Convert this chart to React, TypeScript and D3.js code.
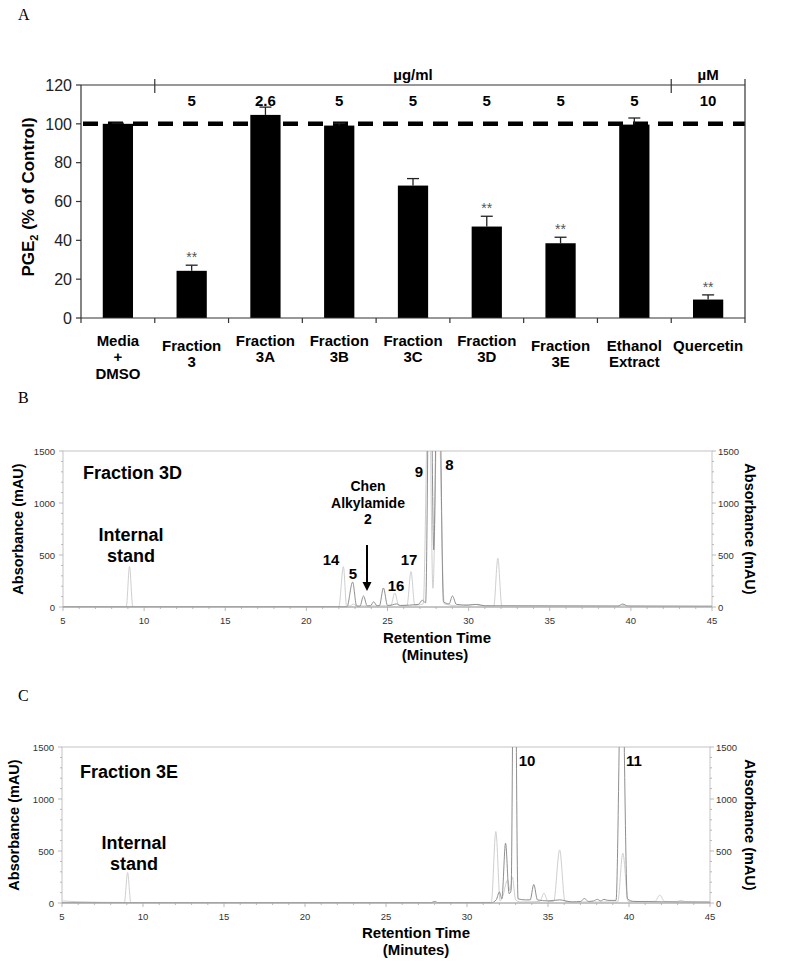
import React from 'react';
import * as d3 from 'd3';

// ---------- Panel A data ----------
const categories: string[][] = [
  ['Media', '+', 'DMSO'],
  ['Fraction', '3'],
  ['Fraction', '3A'],
  ['Fraction', '3B'],
  ['Fraction', '3C'],
  ['Fraction', '3D'],
  ['Fraction', '3E'],
  ['Ethanol', 'Extract'],
  ['Quercetin'],
];
const pgeValues = [100, 24.3, 104.6, 99.1, 68.2, 47.1, 38.5, 99.6, 9.5];
const pgeErrors = [0.3, 2.9, 4.0, 1.2, 3.6, 5.3, 3.1, 3.4, 2.4];
const significant = [false, true, false, false, false, true, true, false, true];
const concentrations = ['', '5', '2.6', '5', '5', '5', '5', '5', '10'];
const unitGroups = [
  { label: 'µg/ml', from: 1, to: 8 },
  { label: 'µM', from: 8, to: 9 },
];
const pgeTicks = [0, 20, 40, 60, 80, 100, 120];
const controlLevel = 100;

// ---------- Panel B / C data (retention time [min], absorbance [mAU]) ----------
const chromTicksX = [5, 10, 15, 20, 25, 30, 35, 40, 45];
const chromTicksY = [0, 500, 1000, 1500];

const trace3DLight: [number, number][] = [
  [5, 4], [8.9, 4], [9.1, 388], [9.3, 4],
  [22.0, 5], [22.28, 388], [22.48, 8], [22.7, 10], [22.9, 28], [23.1, 10],
  [25.2, 12], [25.45, 135], [25.7, 12],
  [26.2, 14], [26.45, 340], [26.68, 16],
  [27.2, 30], [27.55, 2400], [27.8, 180], [28.1, 2200], [28.5, 30],
  [29.5, 10], [30.3, 25], [31.0, 10],
  [31.55, 8], [31.8, 468], [32.05, 8],
  [39.3, 5], [39.6, 18], [39.9, 5], [45, 4],
];
const trace3DDark: [number, number][] = [
  [5, 2], [22.5, 3], [22.85, 240], [23.1, 8], [23.3, 8], [23.52, 106], [23.75, 10],
  [23.95, 12], [24.15, 50], [24.35, 12], [24.5, 12], [24.75, 183], [25.0, 15],
  [25.3, 20], [25.55, 30], [25.8, 15], [26.9, 25], [27.15, 65], [27.35, 40],
  [27.62, 3200], [27.85, 550], [28.12, 3200], [28.45, 50], [28.8, 30], [29.0, 106],
  [29.25, 25], [30.0, 18], [30.5, 25], [31.0, 12], [39.2, 10], [39.5, 28], [39.8, 10], [45, 8],
];

const trace3ELight: [number, number][] = [
  [5, 20], [6, 12], [8.85, 5], [9.05, 293], [9.25, 5], [27.8, 4], [28.0, 10], [28.2, 4],
  [31.5, 6], [31.78, 687], [32.05, 20], [32.2, 60], [32.5, 220], [32.65, 120], [32.8, 250],
  [33.0, 30], [33.3, 10], [34.5, 15], [34.75, 95], [35.0, 15], [35.35, 15], [35.72, 510],
  [36.05, 15], [37, 10], [39.3, 10], [39.62, 478], [39.95, 15], [41.6, 15], [41.9, 75],
  [42.2, 15], [42.9, 12], [43.2, 25], [43.5, 12], [45, 10],
];
const trace3EDark: [number, number][] = [
  [5, 3], [27.8, 3], [28.0, 15], [28.2, 3], [31.5, 3], [31.8, 30], [32.0, 106], [32.15, 40],
  [32.38, 575], [32.6, 90], [32.72, 120], [32.92, 3500], [33.15, 40], [33.6, 30], [33.9, 30],
  [34.12, 178], [34.35, 30], [35, 20], [35.7, 30], [36.5, 10], [37.0, 15], [37.25, 42],
  [37.5, 15], [37.8, 20], [38.05, 35], [38.25, 20], [38.45, 35], [38.7, 25], [39.2, 25],
  [39.55, 2600], [39.9, 40], [40.3, 15], [45, 8],
];

const SANS = "'Liberation Sans', Arial, Helvetica, sans-serif";
const SERIF = "'Liberation Serif', 'Times New Roman', serif";

function PanelA() {
  const left = 81, right = 745, top = 85, bottom = 318;
  const x = d3.scaleBand<string>()
    .domain(categories.map((_, i) => String(i)))
    .range([left, right])
    .paddingInner(0.59)
    .paddingOuter(0.295);
  const y = d3.scaleLinear().domain([0, 120]).range([bottom, top]);
  const step = x.step();
  const boundary = (i: number) => left + i * step;
  const labelShift = [0, 1, 0, 0, 0, 0, 1, 1, 1];
  return (
    <g fontFamily={SANS}>
      <text x={18} y={20} fontFamily={SERIF} fontSize={16}>A</text>
      {/* dashed control line */}
      <line x1={left} x2={right} y1={y(controlLevel)} y2={y(controlLevel)} stroke="#000" strokeWidth={4.5} strokeDasharray="15 10" strokeDashoffset={-2} />
      {/* bars */}
      {pgeValues.map((v, i) => {
        const bx = x(String(i))!;
        const cx = bx + x.bandwidth() / 2;
        const yt = y(v + pgeErrors[i]);
        return (
          <g key={i}>
            <line x1={cx} x2={cx} y1={y(v)} y2={yt} stroke="#222" strokeWidth={1.3} />
            <line x1={cx - 6} x2={cx + 6} y1={yt} y2={yt} stroke="#222" strokeWidth={1.3} />
            <rect x={bx} y={y(v)} width={x.bandwidth()} height={bottom - y(v)} fill="#000" />
            {significant[i] && (
              <text x={cx} y={yt - 3} textAnchor="middle" fontSize={14} fill="#555">**</text>
            )}
            {concentrations[i] && (
              <text x={cx} y={105.5} textAnchor="middle" fontSize={15} fontWeight="bold">{concentrations[i]}</text>
            )}
            {categories[i].map((ln, j) => (
              <text key={j} x={cx} y={345.5 + labelShift[i] * 5 + j * 16.5} textAnchor="middle" fontSize={15} fontWeight="bold">{ln}</text>
            ))}
          </g>
        );
      })}
      {/* axes */}
      <line x1={left} x2={left} y1={top} y2={bottom} stroke="#333" strokeWidth={1.2} />
      <line x1={left} x2={right} y1={bottom} y2={bottom} stroke="#333" strokeWidth={1.2} />
      <line x1={left} x2={right} y1={top} y2={top} stroke="#333" strokeWidth={1.2} />
      <line x1={right} x2={right} y1={top - 6} y2={bottom} stroke="#333" strokeWidth={1.2} />
      {pgeTicks.map(t => (
        <g key={t}>
          <line x1={left - 5} x2={left} y1={y(t)} y2={y(t)} stroke="#333" strokeWidth={1.2} />
          <text x={left - 9} y={y(t) + 5.7} textAnchor="end" fontSize={16} fill="#222">{t}</text>
        </g>
      ))}
      {d3.range(categories.length + 1).map(i => (
        <line key={i} x1={boundary(i)} x2={boundary(i)} y1={bottom} y2={bottom + 5} stroke="#333" strokeWidth={1.2} />
      ))}
      {/* unit brackets */}
      {unitGroups.map((g, k) => (
        <g key={k}>
          <line x1={boundary(g.from)} x2={boundary(g.from)} y1={top - 6} y2={top + 8} stroke="#333" strokeWidth={1.2} />
          <text x={(boundary(g.from) + boundary(g.to)) / 2} y={79.5} textAnchor="middle" fontSize={15} fontWeight="bold">{g.label}</text>
        </g>
      ))}
      {/* y label */}
      <text transform={`translate(34,197) rotate(-90)`} textAnchor="middle" fontSize={17} fontWeight="bold">
        PGE<tspan dy={4} fontSize={11}>2</tspan><tspan dy={-4}> (%  of Control)</tspan>
      </text>
    </g>
  );
}

type Note = { text: string[]; x: number; y: number; size: number; anchor?: string; lh?: number };

function Chromatogram(props: {
  id: string; letter: string; letterY: number;
  left: number; right: number; top: number; bottom: number;
  light: [number, number][]; dark: [number, number][];
  notes: Note[]; titleX: number; titleY: number; subY: number; subX: number;
  leftLabelX: number; rightLabelX: number; tickLabelY: number;
  arrow?: { x: number; y1: number; y2: number };
}) {
  const { left, right, top, bottom } = props;
  const x = d3.scaleLinear().domain([5, 45]).range([left, right]);
  const y = d3.scaleLinear().domain([0, 1500]).range([bottom, top]);
  const line = d3.line<[number, number]>().x(d => x(d[0])).y(d => y(d[1])).curve(d3.curveMonotoneX);
  const midY = (top + bottom) / 2;
  const frame = '#c4c4c4';
  return (
    <g fontFamily={SANS}>
      <defs>
        <clipPath id={props.id}>
          <rect x={left} y={top} width={right - left} height={bottom - top + 1} />
        </clipPath>
      </defs>
      <text x={18} y={props.letterY} fontFamily={SERIF} fontSize={16}>{props.letter}</text>
      <rect x={left} y={top} width={right - left} height={bottom - top} fill="none" stroke={frame} strokeWidth={1} />
      {d3.range(5, 46, 1).map(t => (
        <line key={'mx' + t} x1={x(t)} x2={x(t)} y1={bottom} y2={bottom + (t % 5 === 0 ? 4 : 2)} stroke="#aaa" strokeWidth={0.8} />
      ))}
      {d3.range(0, 1501, 100).map(t => (
        <g key={'my' + t}>
          <line x1={left - (t % 500 === 0 ? 4 : 2)} x2={left} y1={y(t)} y2={y(t)} stroke="#aaa" strokeWidth={0.8} />
          <line x1={right} x2={right + (t % 500 === 0 ? 4 : 2)} y1={y(t)} y2={y(t)} stroke="#aaa" strokeWidth={0.8} />
        </g>
      ))}
      {chromTicksX.map(t => (
        <text key={t} x={x(t)} y={props.tickLabelY} textAnchor="middle" fontSize={9.5} fill="#333">{t}</text>
      ))}
      {chromTicksY.map(t => (
        <g key={t}>
          <text x={left - 8} y={y(t) + 3.5} textAnchor="end" fontSize={9.5} fill="#333">{t}</text>
          <text x={right + 6} y={y(t) + 3.5} textAnchor="start" fontSize={9.5} fill="#333">{t}</text>
        </g>
      ))}
      <g clipPath={`url(#${props.id})`}>
        <path d={line(props.light)!} fill="none" stroke="#cfcfcf" strokeWidth={1} />
        <path d={line(props.dark)!} fill="none" stroke="#8f8f8f" strokeWidth={1} />
      </g>
      <line x1={left} x2={right} y1={bottom} y2={bottom} stroke="#aaa" strokeWidth={1} />
      {props.notes.map((n, i) => (
        <text key={i} x={n.x} y={n.y} fontSize={n.size} fontWeight="bold" textAnchor={n.anchor || 'middle'}>
          {n.text.map((t, j) => (
            <tspan key={j} x={n.x} dy={j === 0 ? 0 : (n.lh || n.size * 1.15)}>{t}</tspan>
          ))}
        </text>
      ))}
      {props.arrow && (
        <g>
          <line x1={props.arrow.x} x2={props.arrow.x} y1={props.arrow.y1} y2={props.arrow.y2 - 8} stroke="#000" strokeWidth={2} />
          <path d={`M${props.arrow.x - 4.5},${props.arrow.y2 - 9} L${props.arrow.x + 4.5},${props.arrow.y2 - 9} L${props.arrow.x},${props.arrow.y2} Z`} fill="#000" />
        </g>
      )}
      <text transform={`translate(${props.leftLabelX},${midY}) rotate(-90)`} textAnchor="middle" fontSize={14.5} fontWeight="bold">Absorbance (mAU)</text>
      <text transform={`translate(${props.rightLabelX},${midY}) rotate(90)`} textAnchor="middle" fontSize={14.5} fontWeight="bold">Absorbance (mAU)</text>
      <text x={props.titleX} y={props.titleY} textAnchor="middle" fontSize={15} fontWeight="bold">Retention Time</text>
      <text x={props.subX} y={props.subY} textAnchor="middle" fontSize={15} fontWeight="bold">(Minutes)</text>
    </g>
  );
}

export default function App() {
  const notesB: Note[] = [
    { text: ['Fraction 3D'], x: 83, y: 478.5, size: 18, anchor: 'start' },
    { text: ['Internal', 'stand'], x: 131, y: 541, size: 18, lh: 20.5 },
    { text: ['Chen', 'Alkylamide', '2'], x: 368, y: 491, size: 14, lh: 16.5 },
    { text: ['14'], x: 331, y: 564.5, size: 15 },
    { text: ['5'], x: 353, y: 578.5, size: 15 },
    { text: ['16'], x: 396, y: 590.5, size: 15 },
    { text: ['17'], x: 409, y: 564.5, size: 15 },
    { text: ['9'], x: 419, y: 476.5, size: 15 },
    { text: ['8'], x: 449.5, y: 469.5, size: 15 },
  ];
  const notesC: Note[] = [
    { text: ['Fraction 3E'], x: 80, y: 778, size: 18, anchor: 'start' },
    { text: ['Internal', 'stand'], x: 134, y: 849, size: 18, lh: 20.5 },
    { text: ['10'], x: 527, y: 765.5, size: 15 },
    { text: ['11'], x: 634, y: 765.5, size: 15 },
  ];
  return (
    <svg width={800} height={965} style={{ position: 'absolute', left: 0, top: 0, background: '#fff' }}>
      <rect width={800} height={965} fill="#fff" />
      <PanelA />
      <Chromatogram id="clipB" letter="B" letterY={403} left={63} right={712} top={451} bottom={607}
        light={trace3DLight} dark={trace3DDark} notes={notesB}
        titleX={437} titleY={643} subX={435} subY={660}
        leftLabelX={23} rightLabelX={745} tickLabelY={624}
        arrow={{ x: 367, y1: 545, y2: 591 }} />
      <Chromatogram id="clipC" letter="C" letterY={701} left={62} right={710} top={747} bottom={903}
        light={trace3ELight} dark={trace3EDark} notes={notesC}
        titleX={416} titleY={938} subX={416} subY={955}
        leftLabelX={19} rightLabelX={745} tickLabelY={920}
        />
    </svg>
  );
}
